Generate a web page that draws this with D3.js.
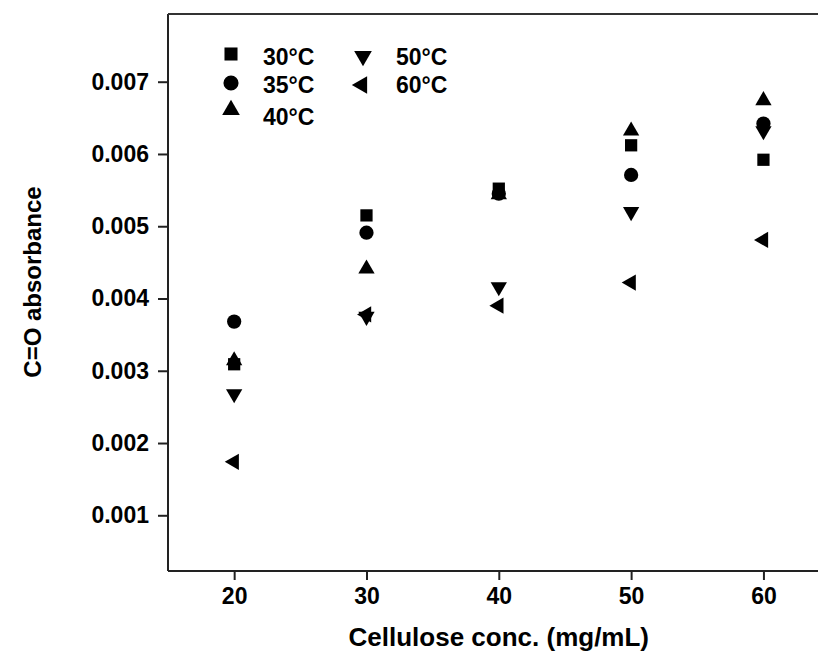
<!DOCTYPE html>
<html>
<head>
<meta charset="utf-8">
<script src="https://cdn.jsdelivr.net/npm/d3@7"></script>
<style>
  body { margin: 0; background: #fff; }
  text { font-family: "Liberation Sans", Arial, sans-serif; font-weight: bold; fill: #000; }
</style>
</head>
<body>
<div id="chart"></div>
<script>
// data
let conc = [20, 30, 40, 50, 60];
let t30 = [0.00309, 0.00515, 0.00552, 0.00612, 0.00592];
let t35 = [0.00368, 0.00491, 0.00545, 0.00571, 0.00642];
let t40 = [0.00314, 0.00441, 0.00544, 0.00632, 0.00674];
let t50 = [0.00268, 0.00375, 0.00416, 0.00520, 0.00632];
let t60 = [0.00174, 0.00378, 0.00390, 0.00422, 0.00481];
let seriesNames = ["30°C", "35°C", "40°C", "50°C", "60°C"];
let xTicks = [20, 30, 40, 50, 60];
let yTicks = [0.001, 0.002, 0.003, 0.004, 0.005, 0.006, 0.007];

let svgWidth = 818;
let svgHeight = 660;
let mar = { top: 14, left: 168, bottom: 89 };
let wdt = 661.6;
let hgt = svgHeight - mar.top - mar.bottom;

let svg = d3.select("#chart")
    .append("svg")
    .attr("width", svgWidth)
    .attr("height", svgHeight);

let chart = svg.append("g")
    .attr("transform", `translate(${mar.left}, ${mar.top})`);

let x = d3.scaleLinear().domain([15, 65]).range([0, wdt]);
let y = d3.scaleLinear().domain([0.000229, 0.007937]).range([hgt, 0]);

// symbols: square, circle, up, down, left
let shapes = [
    { type: d3.symbolSquare, size: 150, rot: 0 },
    { type: d3.symbolCircle, size: 160, rot: 0 },
    { type: d3.symbolTriangle, size: 115, rot: 0 },
    { type: d3.symbolTriangle, size: 115, rot: 180 },
    { type: d3.symbolTriangle, size: 115, rot: -90 }
];
let allSeries = [t30, t35, t40, t50, t60];

// axes
let xAxis = chart.append("g")
    .attr("transform", `translate(0, ${hgt})`)
    .call(d3.axisBottom(x).tickValues(xTicks).tickSize(9).tickPadding(8).tickFormat(d3.format("d")));
let yAxis = chart.append("g")
    .call(d3.axisLeft(y).tickValues(yTicks).tickSize(10).tickPadding(9).tickFormat(d3.format(".3f")));

[xAxis, yAxis].forEach(function (ax) {
    ax.select(".domain").attr("stroke", "#222").attr("stroke-width", 2);
    ax.selectAll(".tick line").attr("stroke", "#222").attr("stroke-width", 2);
    ax.selectAll(".tick text")
        .attr("font-size", 23)
        .attr("font-family", "Liberation Sans, Arial, sans-serif")
        .attr("font-weight", "bold")
        .attr("fill", "#000");
});
xAxis.select(".domain").attr("d", `M0,0H${wdt}`);
yAxis.select(".domain").attr("d", `M0,${hgt}V0`);

// top frame line
chart.append("line")
    .attr("x1", 0).attr("x2", wdt)
    .attr("y1", 0).attr("y2", 0)
    .attr("stroke", "#333")
    .attr("stroke-width", 2);

// points
allSeries.forEach(function (vals, i) {
    let sh = shapes[i];
    chart.selectAll(".pt" + i)
        .data(vals)
        .enter()
        .append("path")
        .attr("class", "pt" + i)
        .attr("d", d3.symbol().type(sh.type).size(sh.size))
        .attr("transform", (d, j) => `translate(${x(conc[j])}, ${y(d)}) rotate(${sh.rot})`)
        .attr("fill", "#000");
});

// legend
let legendPos = [
    { mx: 231, my: 54, tx: 263, ty: 65 },
    { mx: 231, my: 83, tx: 263, ty: 93 },
    { mx: 231, my: 110, tx: 263, ty: 125 },
    { mx: 363, my: 56, tx: 396, ty: 65 },
    { mx: 362, my: 85, tx: 396, ty: 93 }
];
seriesNames.forEach(function (name, i) {
    let sh = shapes[i];
    let p = legendPos[i];
    svg.append("path")
        .attr("d", d3.symbol().type(sh.type).size(sh.size + 20))
        .attr("transform", `translate(${p.mx}, ${p.my}) rotate(${sh.rot})`)
        .attr("fill", "#000");
    svg.append("text")
        .attr("x", p.tx)
        .attr("y", p.ty)
        .attr("font-size", 23)
        .text(name);
});

// axis titles
svg.append("text")
    .attr("x", mar.left + x(40))
    .attr("y", 646)
    .attr("text-anchor", "middle")
    .attr("font-size", 26)
    .text("Cellulose conc. (mg/mL)");

svg.append("text")
    .attr("transform", `translate(41, 282) rotate(-90)`)
    .attr("text-anchor", "middle")
    .attr("font-size", 24)
    .text("C=O absorbance");
</script>
</body>
</html>
